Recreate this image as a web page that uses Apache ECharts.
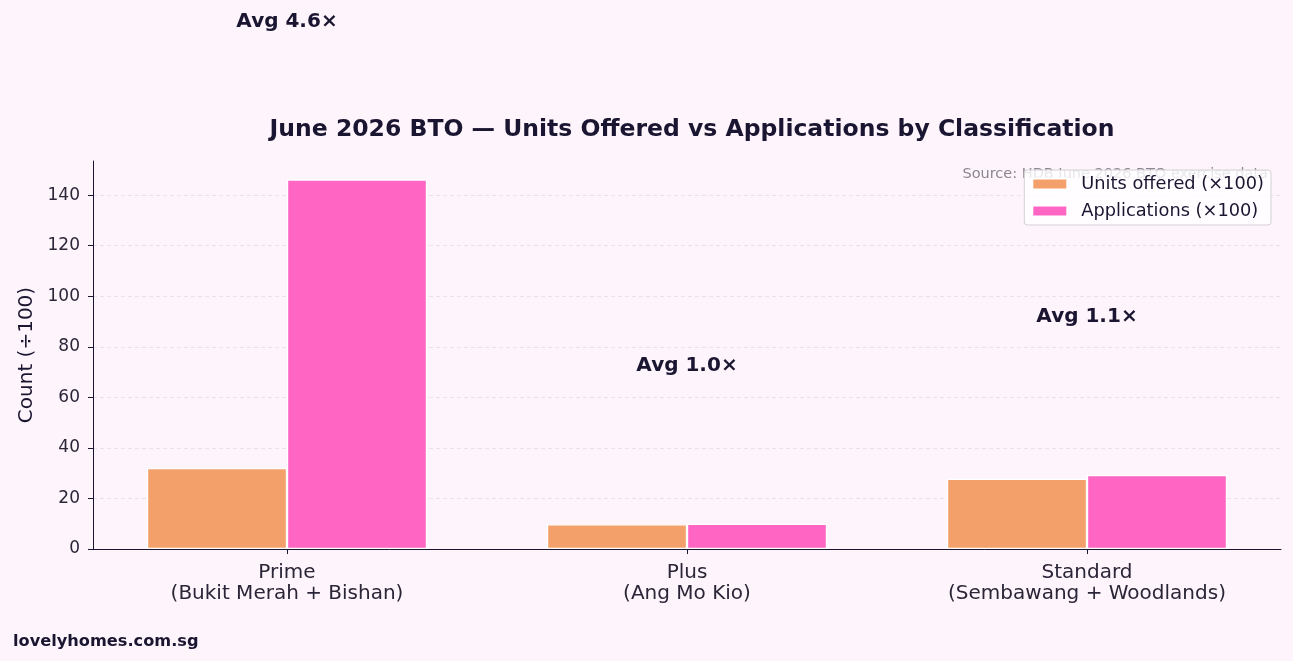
<!DOCTYPE html>
<html>
<head>
<meta charset="utf-8">
<script src="https://cdn.jsdelivr.net/npm/echarts@6/dist/echarts.min.js"></script>
<style>
  html, body { margin: 0; padding: 0; background: #fef5fc; }
  #chart { width: 1293px; height: 661px; }
</style>
</head>
<body>
<div id="chart"></div>
<script>
const categories = ['Prime\n(Bukit Merah + Bishan)', 'Plus\n(Ang Mo Kio)', 'Standard\n(Sembawang + Woodlands)']
const unitsOffered = [32.0, 9.8, 27.8]
const applications = [146.2, 10.0, 29.3]
const yTicks = [0, 20, 40, 60, 80, 100, 120, 140]
const xTicks = [0, 1, 2]

const ink = '#1a1530'
const font = 'DejaVu Sans'

// avg ratio labels sit a fixed step above the taller bar
const avgLabels = categories.map(function (c, i) {
  const ratio = (applications[i] / unitsOffered[i]).toFixed(1)
  return { value: [i, Math.max(unitsOffered[i], applications[i]) + 62.4], label: 'Avg ' + ratio + '×' }
})

// hide the dashed line at the top of the axis (max is not a tick)
const gridColors = yTicks.map(function () { return '#e6dce6' })
gridColors.push('transparent')

const chart = echarts.init(document.getElementById('chart'))
chart.setOption({
  backgroundColor: '#fef5fc',
  textStyle: { fontFamily: font },
  title: {
    text: 'June 2026 BTO — Units Offered vs Applications by Classification',
    left: 687,
    textAlign: 'center',
    top: 113,
    textStyle: { fontSize: 23.5, fontWeight: 'bold', color: ink, fontFamily: font }
  },
  legend: {
    orient: 'vertical',
    right: 22,
    top: 170,
    icon: 'rect',
    itemWidth: 35,
    itemHeight: 11,
    itemGap: 9,
    padding: [5, 7, 5, 7],
    backgroundColor: 'rgba(255,255,255,0.8)',
    borderColor: '#d4d0d4',
    borderWidth: 1,
    borderRadius: 3,
    textStyle: { fontSize: 17.8, color: ink, fontFamily: font, padding: [0, 0, 0, 9] },
    data: ['Units offered (×100)', 'Applications (×100)'],
    z: 10
  },
  graphic: [
    {
      type: 'text',
      right: 25,
      top: 167,
      z: 1,
      style: { text: 'Source: HDB June 2026 BTO exercise data', fill: '#8a8590', fontSize: 14.5, fontFamily: font }
    },
    {
      type: 'text',
      left: 13,
      top: 634,
      style: { text: 'lovelyhomes.com.sg', fill: ink, fontSize: 16.2, fontWeight: 'bold', fontFamily: font }
    }
  ],
  grid: { left: 93, right: 12, top: 161, bottom: 112 },
  xAxis: {
    type: 'value',
    min: -0.485,
    max: 2.485,
    splitLine: { show: false },
    axisLine: { onZero: false, lineStyle: { color: ink, width: 1 } },
    axisTick: { length: 5, lineStyle: { color: ink }, customValues: xTicks },
    axisLabel: {
      fontSize: 20,
      color: '#2a2638',
      lineHeight: 21.5,
      margin: 13,
      customValues: xTicks,
      formatter: function (v) { return categories[v] }
    }
  },
  yAxis: {
    type: 'value',
    min: 0,
    max: 153.5,
    interval: 20,
    name: 'Count (÷100)',
    nameLocation: 'middle',
    nameGap: 53,
    nameTextStyle: { fontSize: 20, color: ink, fontFamily: font },
    axisLine: { show: true, onZero: false, lineStyle: { color: ink, width: 1 } },
    axisTick: { show: true, length: 5, lineStyle: { color: ink }, customValues: yTicks },
    axisLabel: { fontSize: 17, color: '#2a2638', margin: 13, customValues: yTicks },
    splitLine: { show: true, lineStyle: { color: gridColors, type: [4, 3], width: 0.8 } }
  },
  series: [
    {
      name: 'Units offered (×100)',
      type: 'bar',
      data: unitsOffered.map(function (v, i) { return [xTicks[i], v] }),
      barWidth: 140,
      barGap: '0%',
      itemStyle: { color: '#f4a06a', borderColor: '#ffffff', borderWidth: 1.2 }
    },
    {
      name: 'Applications (×100)',
      type: 'bar',
      data: applications.map(function (v, i) { return [xTicks[i], v] }),
      barWidth: 140,
      barGap: '0%',
      itemStyle: { color: '#ff66c4', borderColor: '#ffffff', borderWidth: 1.2 }
    },
    {
      name: 'avg',
      type: 'scatter',
      clip: false,
      symbolSize: 0,
      silent: true,
      itemStyle: { opacity: 1 },
      data: avgLabels.map(function (d) { return d.value }),
      label: {
        show: true,
        position: 'inside',
        formatter: function (p) { return avgLabels[p.dataIndex].label },
        fontSize: 20,
        fontWeight: 'bold',
        color: ink,
        fontFamily: font
      },
      z: 5
    }
  ]
})
</script>
</body>
</html>
